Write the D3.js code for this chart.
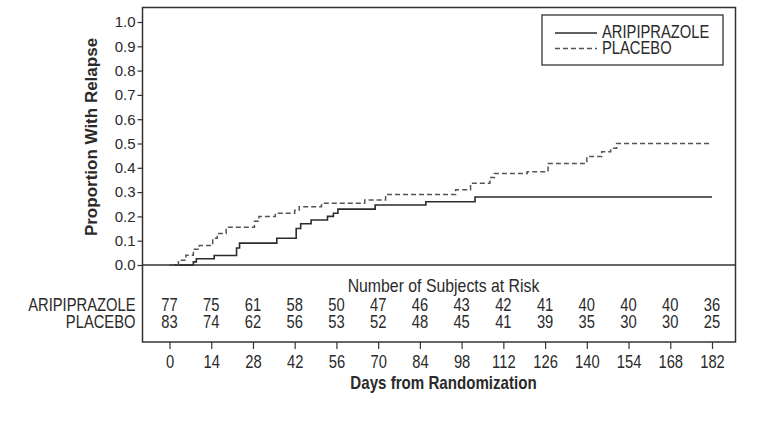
<!DOCTYPE html>
<html>
<head>
<meta charset="utf-8">
<script src="https://cdn.jsdelivr.net/npm/d3@7"></script>
<style>
  html, body { margin: 0; padding: 0; background: #fff; }
  svg { display: block; }
</style>
</head>
<body>
<svg id="chart" width="757" height="429"></svg>
<script>
// ---------- data ----------
const seriesNames = ["ARIPIPRAZOLE", "PLACEBO"];
// Kaplan-Meier step points: [day, cumulative proportion with relapse]
const aripiprazoleSteps = [
  [0, 0], [8, 0.013], [9, 0.026], [15, 0.039], [22.5, 0.07], [23.5, 0.09],
  [36, 0.11], [42.5, 0.15], [44, 0.17], [47.5, 0.185], [53, 0.20], [55, 0.213],
  [56.5, 0.23], [69, 0.247], [86, 0.26], [102.5, 0.28], [182, 0.28]
];
const placeboSteps = [
  [0, 0], [3, 0.02], [5.5, 0.04], [8, 0.065], [10, 0.08], [14.5, 0.11], [16, 0.13],
  [19, 0.155], [28.5, 0.18], [30, 0.20], [35.5, 0.213], [42, 0.225], [43.5, 0.24],
  [51, 0.254], [65.5, 0.267], [72.5, 0.29], [96, 0.31], [101, 0.336], [107.5, 0.36],
  [109, 0.377], [120, 0.384], [127, 0.418], [140, 0.446], [145, 0.466], [148, 0.48],
  [150, 0.50], [182, 0.50]
];
const dayTicks = [0, 14, 28, 42, 56, 70, 84, 98, 112, 126, 140, 154, 168, 182];
const yTicks = [0, 0.1, 0.2, 0.3, 0.4, 0.5, 0.6, 0.7, 0.8, 0.9, 1.0];
const atRiskAripiprazole = [77, 75, 61, 58, 50, 47, 46, 43, 42, 41, 40, 40, 40, 36];
const atRiskPlacebo = [83, 74, 62, 56, 53, 52, 48, 45, 41, 39, 35, 30, 30, 25];
const yTitle = "Proportion With Relapse";
const xTitle = "Days from Randomization";
const riskTitle = "Number of Subjects at Risk";

// ---------- layout ----------
const svg = d3.select("#chart");
const FONT = "'Liberation Sans', Arial, sans-serif";
const ink = "#2a2a2a";
const NARROW = 0.82;

const box = { left: 142.5, top: 7.5, right: 735.5, bottom: 342 };
const x = d3.scaleLinear().domain([0, 182]).range([169.5, 712]);
const y = d3.scaleLinear().domain([0, 1]).range([265, 22]);

svg.append("rect").attr("width", 757).attr("height", 429).attr("fill", "#fff");

// condensed text helper (horizontal squeeze of an Arial-metric font)
function ctext(parent, px, py, str, o = {}) {
  const g = parent.append("g")
    .attr("transform", `translate(${px},${py}) scale(${o.sx || NARROW},1)`);
  return g.append("text")
    .attr("x", 0).attr("y", 0)
    .attr("text-anchor", o.anchor || "start")
    .attr("fill", ink)
    .style("font-family", FONT)
    .style("font-size", (o.size || 18) + "px")
    .style("font-weight", o.weight || "normal")
    .text(str);
}

// frame
svg.append("rect")
  .attr("x", box.left).attr("y", box.top)
  .attr("width", box.right - box.left).attr("height", box.bottom - box.top)
  .attr("fill", "none").attr("stroke", "#333").attr("stroke-width", 1.5);

// zero line dividing plot and risk table
svg.append("line")
  .attr("x1", box.left).attr("x2", box.right)
  .attr("y1", y(0)).attr("y2", y(0))
  .attr("stroke", "#333").attr("stroke-width", 1.6);

// y axis
const yAxis = svg.append("g")
  .attr("transform", `translate(${box.left},0)`)
  .call(d3.axisLeft(y).tickValues(yTicks).tickFormat(d3.format(".1f")).tickSize(5).tickPadding(2));
yAxis.select(".domain").remove();
yAxis.selectAll(".tick line").attr("stroke", "#333").attr("stroke-width", 1.2);
yAxis.selectAll(".tick text").attr("fill", ink).style("font-family", FONT).style("font-size", "15px");

// x axis
const xAxis = svg.append("g")
  .attr("transform", `translate(0,${box.bottom})`)
  .call(d3.axisBottom(x).tickValues(dayTicks).tickSize(7).tickPadding(6));
xAxis.select(".domain").remove();
xAxis.selectAll(".tick line").attr("stroke", "#333").attr("stroke-width", 1.2);
xAxis.selectAll(".tick text").attr("fill", ink).style("font-family", FONT).style("font-size", "18px")
  .attr("transform", `scale(${NARROW},1)`);

// axis titles
svg.append("text")
  .attr("transform", `translate(97,137) rotate(-90)`)
  .attr("text-anchor", "middle")
  .attr("fill", ink).style("font-family", FONT).style("font-weight", "bold").style("font-size", "17px")
  .text(yTitle);
ctext(svg, 443.5, 389, xTitle, { anchor: "middle", weight: "bold", size: 18, sx: 0.84 });

// curves
const line = d3.line().x(d => x(d[0])).y(d => y(d[1])).curve(d3.curveStepAfter);
svg.append("path").datum(aripiprazoleSteps)
  .attr("d", line).attr("fill", "none").attr("stroke", "#2b2b2b").attr("stroke-width", 1.6);
svg.append("path").datum(placeboSteps)
  .attr("d", line).attr("fill", "none").attr("stroke", "#555").attr("stroke-width", 1.5)
  .attr("stroke-dasharray", "5,3");

// risk table
ctext(svg, 443.5, 291.5, riskTitle, { anchor: "middle", size: 18, sx: 0.88 });
const rows = [
  { name: seriesNames[0], vals: atRiskAripiprazole, yb: 311 },
  { name: seriesNames[1], vals: atRiskPlacebo, yb: 327.5 }
];
rows.forEach(r => {
  ctext(svg, 135.5, r.yb, r.name, { anchor: "end", size: 18 });
  r.vals.forEach((v, i) => ctext(svg, x(dayTicks[i]), r.yb, v, { anchor: "middle", size: 18 }));
});

// legend
const lg = svg.append("g");
lg.append("rect").attr("x", 542).attr("y", 15).attr("width", 181).attr("height", 50)
  .attr("fill", "#fff").attr("stroke", "#333").attr("stroke-width", 1.3);
const legendItems = [
  { name: seriesNames[0], dash: null, stroke: "#2b2b2b", yl: 33, yt: 37.5 },
  { name: seriesNames[1], dash: "5,3", stroke: "#555", yl: 48.5, yt: 53.5 }
];
legendItems.forEach(it => {
  lg.append("line").attr("x1", 555).attr("x2", 597).attr("y1", it.yl).attr("y2", it.yl)
    .attr("stroke", it.stroke).attr("stroke-width", 1.5)
    .attr("stroke-dasharray", it.dash);
  ctext(lg, 602, it.yt, it.name, { size: 18 });
});
</script>
</body>
</html>
